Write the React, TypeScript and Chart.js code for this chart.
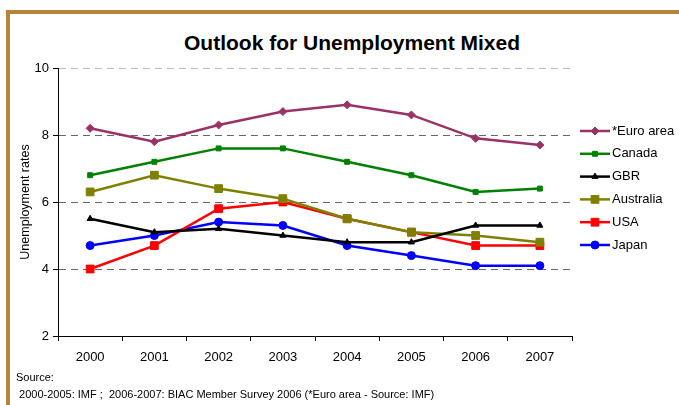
import React, { useEffect, useRef } from "react";
import { Chart, registerables } from "chart.js";
import { drawPoint } from "chart.js/helpers";

Chart.register(...registerables);

const years = ["2000", "2001", "2002", "2003", "2004", "2005", "2006", "2007"];
const euroArea = [8.2, 7.8, 8.3, 8.7, 8.9, 8.6, 7.9, 7.7];
const canada = [6.8, 7.2, 7.6, 7.6, 7.2, 6.8, 6.3, 6.4];
const gbr = [5.5, 5.1, 5.2, 5.0, 4.8, 4.8, 5.3, 5.3];
const australia = [6.3, 6.8, 6.4, 6.1, 5.5, 5.1, 5.0, 4.8];
const usa = [4.0, 4.7, 5.8, 6.0, 5.5, 5.1, 4.7, 4.7];
const japan = [4.7, 5.0, 5.4, 5.3, 4.7, 4.4, 4.1, 4.1];
const yTicks = [2, 4, 6, 8, 10];

const FONT = "'Liberation Sans', Arial, sans-serif";

const legendPlugin = {
  id: "sideLegend",
  afterDraw(chart: any) {
    const ctx = chart.ctx;
    const x0 = 580;
    const x1 = 610;
    const yStart = 131;
    const step = 22.8;
    ctx.save();
    chart.data.datasets.forEach((ds: any, i: number) => {
      const y = yStart + i * step;
      ctx.strokeStyle = ds.borderColor;
      ctx.lineWidth = ds.borderWidth;
      ctx.setLineDash([]);
      ctx.beginPath();
      ctx.moveTo(x0, y);
      ctx.lineTo(x1, y);
      ctx.stroke();
      ctx.fillStyle = ds.pointBackgroundColor;
      ctx.strokeStyle = ds.pointBorderColor;
      ctx.lineWidth = 1;
      drawPoint(ctx, { pointStyle: ds.pointStyle, rotation: 0, radius: ds.pointRadius, borderWidth: 1 }, (x0 + x1) / 2, y);
      ctx.fillStyle = "#000";
      ctx.font = `13px ${FONT}`;
      ctx.textBaseline = "middle";
      ctx.textAlign = "left";
      ctx.fillText(ds.label, x1 + 2, y);
    });
    ctx.restore();
  },
};

function mk(label: string, data: number[], color: string, style: string, r: number) {
  return {
    label,
    data,
    borderColor: color,
    backgroundColor: color,
    pointBackgroundColor: color,
    pointBorderColor: color,
    pointStyle: style,
    pointRadius: r,
    pointBorderWidth: 1,
    borderWidth: 2.5,
    tension: 0,
  };
}

export default function App() {
  const ref = useRef<HTMLCanvasElement>(null);
  useEffect(() => {
    const chart = new Chart(ref.current!, {
      type: "line",
      data: {
        labels: years,
        datasets: [
          mk("*Euro area", euroArea, "#993366", "rectRot", 4),
          mk("Canada", canada, "#008000", "rect", 3.5),
          mk("GBR", gbr, "#000000", "triangle", 3.5),
          mk("Australia", australia, "#808000", "rect", 5.5),
          mk("USA", usa, "#FF0000", "rect", 5.5),
          mk("Japan", japan, "#0000FF", "circle", 4),
        ],
      },
      options: {
        animation: false,
        responsive: false,
        devicePixelRatio: 1,
        layout: { padding: { left: 16, right: 107, top: 68, bottom: 39 } },
        plugins: { legend: { display: false }, title: { display: false }, tooltip: { enabled: false } },
        scales: {
          x: {
            offset: true,
            afterFit: (s: any) => { s.height = 30; },
            grid: { display: true, drawOnChartArea: false, offset: true, tickLength: 5, tickColor: "#000", color: "#000" },
            border: { color: "#000", width: 1 },
            ticks: { color: "#000", font: { family: FONT, size: 13 }, padding: 9 },
          },
          y: {
            min: 2,
            max: 10,
            afterFit: (s: any) => { s.width = 42; },
            afterBuildTicks: (s: any) => { s.ticks = yTicks.map((v) => ({ value: v })); },
            grid: {
              color: (c: any) => (c.tick && c.tick.value === 10 ? "#bdbdbd" : c.tick && c.tick.value === 2 ? "rgba(0,0,0,0)" : "#666"),
              tickColor: "#000",
              tickLength: 5,
              tickBorderDash: [],
            },
            border: { color: "#000", width: 1, dash: [7, 5] },
            ticks: { color: "#000", font: { family: FONT, size: 13 }, padding: 4 },
            title: { display: true, text: "Unemployment rates", color: "#000", font: { family: FONT, size: 12.5 }, padding: 2 },
          },
        },
      } as any,
      plugins: [legendPlugin],
    });
    return () => chart.destroy();
  }, []);

  return (
    <div style={{ position: "fixed", left: 0, top: 0, width: 679, height: 405, background: "#fff", overflow: "hidden", fontFamily: FONT }}>
      <div style={{ position: "absolute", left: 6, top: 10, width: 700, height: 420, borderTop: "4px solid #B5843A", borderLeft: "4px solid #B5843A", boxSizing: "border-box" }} />
      <div style={{ position: "absolute", left: 0, top: 31, width: 704, textAlign: "center", fontSize: 21, lineHeight: "24px", fontWeight: "bold", color: "#000" }}>
        Outlook for Unemployment Mixed
      </div>
      <canvas ref={ref} width={679} height={405} style={{ position: "absolute", left: 0, top: 0 }} />
      <div style={{ position: "absolute", left: 16, top: 371, fontSize: 11, color: "#000", whiteSpace: "pre" }}>Source:</div>
      <div style={{ position: "absolute", left: 16, top: 388, fontSize: 11, color: "#000", whiteSpace: "pre" }}>
        {" 2000-2005: IMF ;  2006-2007: BIAC Member Survey 2006 (*Euro area - Source: IMF)"}
      </div>
    </div>
  );
}
